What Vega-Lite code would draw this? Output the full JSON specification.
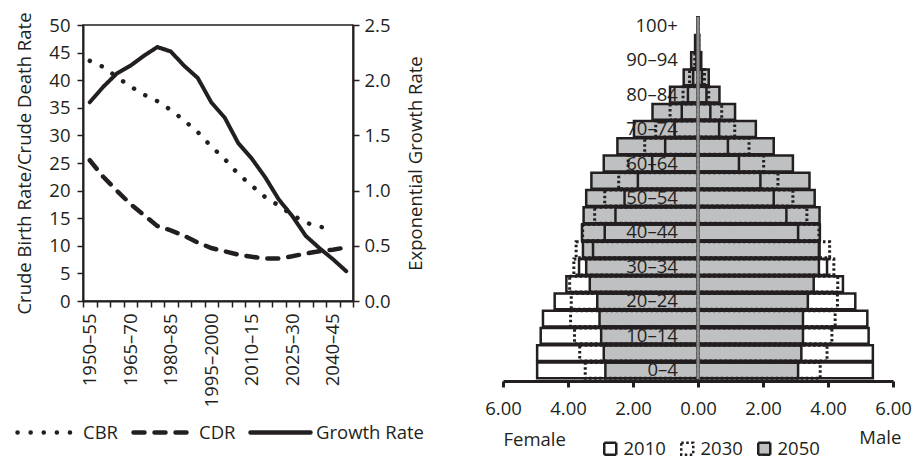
{
  "$schema": "https://vega.github.io/schema/vega-lite/v6.json",
  "background": "white",
  "padding": {"left": 14, "top": 11, "right": 2, "bottom": 0},
  "spacing": 58,
  "resolve": {"scale": {"strokeDash": "independent", "fill": "independent"}, "legend": {"strokeDash": "independent", "fill": "independent"}},
  "config": {
    "font": "Open Sans",
    "view": {"stroke": null},
    "axis": {"labelFontSize": 18.5, "titleFontSize": 18.5, "titleFontWeight": "normal", "labelColor": "#231f20", "titleColor": "#231f20", "domainColor": "#231f20", "tickColor": "#231f20", "grid": false, "labelFlush": false},
    "legend": {"labelFontSize": 18.5, "labelColor": "#231f20"},
    "title": {"fontSize": 18.5, "fontWeight": "normal", "color": "#231f20"}
  },
  "hconcat": [
    {
      "width": 270,
      "height": 276,
      "view": {"stroke": "#231f20", "strokeWidth": 1.5},
      "data": {"values": [
        {"period": "1950–55", "series": "CBR", "value": 43.5},
        {"period": "1955–60", "series": "CBR", "value": 42.4},
        {"period": "1960–65", "series": "CBR", "value": 40.6},
        {"period": "1965–70", "series": "CBR", "value": 38.9},
        {"period": "1970–75", "series": "CBR", "value": 37.4},
        {"period": "1975–80", "series": "CBR", "value": 36.2},
        {"period": "1980–85", "series": "CBR", "value": 34.6},
        {"period": "1985–90", "series": "CBR", "value": 32.7},
        {"period": "1990–95", "series": "CBR", "value": 30.6},
        {"period": "1995–2000", "series": "CBR", "value": 28.0},
        {"period": "2000–05", "series": "CBR", "value": 25.7},
        {"period": "2005–10", "series": "CBR", "value": 23.0},
        {"period": "2010–15", "series": "CBR", "value": 20.9},
        {"period": "2015–20", "series": "CBR", "value": 18.8},
        {"period": "2020–25", "series": "CBR", "value": 17.3},
        {"period": "2025–30", "series": "CBR", "value": 15.6},
        {"period": "2030–35", "series": "CBR", "value": 14.2},
        {"period": "2035–40", "series": "CBR", "value": 13.5},
        {"period": "2040–45", "series": "CBR", "value": 12.9},
        {"period": "1950–55", "series": "CDR", "value": 25.5},
        {"period": "1955–60", "series": "CDR", "value": 22.5},
        {"period": "1960–65", "series": "CDR", "value": 20.0},
        {"period": "1965–70", "series": "CDR", "value": 17.6},
        {"period": "1970–75", "series": "CDR", "value": 15.6},
        {"period": "1975–80", "series": "CDR", "value": 13.6},
        {"period": "1980–85", "series": "CDR", "value": 12.8},
        {"period": "1985–90", "series": "CDR", "value": 11.8},
        {"period": "1990–95", "series": "CDR", "value": 10.6},
        {"period": "1995–2000", "series": "CDR", "value": 9.6},
        {"period": "2000–05", "series": "CDR", "value": 9.0},
        {"period": "2005–10", "series": "CDR", "value": 8.4},
        {"period": "2010–15", "series": "CDR", "value": 8.0},
        {"period": "2015–20", "series": "CDR", "value": 7.7},
        {"period": "2020–25", "series": "CDR", "value": 7.7},
        {"period": "2025–30", "series": "CDR", "value": 8.1},
        {"period": "2030–35", "series": "CDR", "value": 8.6},
        {"period": "2035–40", "series": "CDR", "value": 9.0},
        {"period": "2040–45", "series": "CDR", "value": 9.3},
        {"period": "2045–50", "series": "CDR", "value": 9.7},
        {"period": "1950–55", "series": "Growth Rate", "value": 1.80},
        {"period": "1955–60", "series": "Growth Rate", "value": 1.94},
        {"period": "1960–65", "series": "Growth Rate", "value": 2.06},
        {"period": "1965–70", "series": "Growth Rate", "value": 2.13},
        {"period": "1970–75", "series": "Growth Rate", "value": 2.22},
        {"period": "1975–80", "series": "Growth Rate", "value": 2.30},
        {"period": "1980–85", "series": "Growth Rate", "value": 2.26},
        {"period": "1985–90", "series": "Growth Rate", "value": 2.13},
        {"period": "1990–95", "series": "Growth Rate", "value": 2.02},
        {"period": "1995–2000", "series": "Growth Rate", "value": 1.80},
        {"period": "2000–05", "series": "Growth Rate", "value": 1.66},
        {"period": "2005–10", "series": "Growth Rate", "value": 1.43},
        {"period": "2010–15", "series": "Growth Rate", "value": 1.29},
        {"period": "2015–20", "series": "Growth Rate", "value": 1.12},
        {"period": "2020–25", "series": "Growth Rate", "value": 0.92},
        {"period": "2025–30", "series": "Growth Rate", "value": 0.77},
        {"period": "2030–35", "series": "Growth Rate", "value": 0.59},
        {"period": "2035–40", "series": "Growth Rate", "value": 0.48},
        {"period": "2040–45", "series": "Growth Rate", "value": 0.38},
        {"period": "2045–50", "series": "Growth Rate", "value": 0.27}
      ]},
      "encoding": {
        "x": {
          "field": "period", "type": "ordinal", "bandPosition": 0.5,
          "scale": {"type": "band", "paddingInner": 0, "paddingOuter": 0,
            "domain": ["1950–55","1955–60","1960–65","1965–70","1970–75","1975–80","1980–85","1985–90","1990–95","1995–2000","2000–05","2005–10","2010–15","2015–20","2020–25","2025–30","2030–35","2035–40","2040–45","2045–50"]},
          "axis": {
            "title": null, "labelAngle": -90, "labelAlign": "right", "labelBaseline": "middle",
            "labelExpr": "indexof(['1950–55','1965–70','1980–85','1995–2000','2010–15','2025–30','2040–45'], datum.label) >= 0 ? datum.label : ''",
            "tickBand": "extent", "tickSize": 6, "tickWidth": 1.5, "labelPadding": 6, "domainWidth": 2
          }
        }
      },
      "layer": [
        {
          "transform": [{"filter": "datum.series != 'Growth Rate'"}],
          "mark": {"type": "line", "color": "#231f20", "strokeWidth": 4.5, "strokeCap": "round"},
          "encoding": {
            "y": {"field": "value", "type": "quantitative",
              "scale": {"domain": [0, 50]},
              "axis": {"title": "Crude Birth Rate/Crude Death Rate", "values": [0,5,10,15,20,25,30,35,40,45,50], "tickSize": 6, "tickWidth": 1.5, "labelPadding": 7, "titlePadding": 14, "domainWidth": 2}},
            "strokeDash": {"field": "series", "type": "nominal",
              "scale": {"domain": ["CBR", "CDR", "Growth Rate"], "range": [[0.1, 13], [11, 10], [1, 0]]},
              "legend": {"orient": "none", "legendX": -68, "legendY": 375, "direction": "horizontal", "title": null,
                "symbolType": "stroke", "symbolSize": 3600, "symbolStrokeWidth": 4.5, "symbolStrokeColor": "#231f20",
                "labelFontSize": 18.5, "labelOffset": 3, "columnPadding": 5,
                "encode": {"symbols": {"update": {"strokeCap": {"value": "round"}}}}}}
          }
        },
        {
          "transform": [{"filter": "datum.series == 'Growth Rate'"}],
          "mark": {"type": "line", "color": "#231f20", "strokeWidth": 4, "strokeCap": "round"},
          "encoding": {
            "y": {"field": "value", "type": "quantitative",
              "scale": {"domain": [0, 2.5]},
              "axis": {"orient": "right", "title": "Exponential Growth Rate", "titleAngle": -90, "titleBaseline": "top", "values": [0,0.5,1,1.5,2,2.5], "format": ".1f", "tickSize": 6, "tickWidth": 1.5, "labelPadding": 5, "titlePadding": 16, "domainWidth": 2}},
            "strokeDash": {"field": "series", "type": "nominal",
              "scale": {"domain": ["CBR", "CDR", "Growth Rate"], "range": [[0.1, 13], [11, 10], [1, 0]]},
              "legend": {"orient": "none", "legendX": -68, "legendY": 375, "direction": "horizontal", "title": null,
                "symbolType": "stroke", "symbolSize": 3600, "symbolStrokeWidth": 4.5, "symbolStrokeColor": "#231f20",
                "labelFontSize": 18.5, "labelOffset": 3, "columnPadding": 5,
                "encode": {"symbols": {"update": {"strokeCap": {"value": "round"}}}}}}
          }
        }
      ],
      "resolve": {"scale": {"y": "independent"}}
    },
    {
      "width": 390,
      "height": 356,
      "title": {"text": "Male", "orient": "bottom", "anchor": "end", "offset": -31, "dx": -10, "fontSize": 18.5, "fontWeight": "normal"},
      "data": {"values": [
        {"age":"0–4","sex":"Female","year":"2010","pct":-4.95},
        {"age":"5–9","sex":"Female","year":"2010","pct":-4.95},
        {"age":"10–14","sex":"Female","year":"2010","pct":-4.84},
        {"age":"15–19","sex":"Female","year":"2010","pct":-4.77},
        {"age":"20–24","sex":"Female","year":"2010","pct":-4.41},
        {"age":"25–29","sex":"Female","year":"2010","pct":-4.05},
        {"age":"30–34","sex":"Female","year":"2010","pct":-3.66},
        {"age":"35–39","sex":"Female","year":"2010","pct":-3.23},
        {"age":"40–44","sex":"Female","year":"2010","pct":-2.87},
        {"age":"45–49","sex":"Female","year":"2010","pct":-2.54},
        {"age":"50–54","sex":"Female","year":"2010","pct":-2.26},
        {"age":"55–59","sex":"Female","year":"2010","pct":-1.85},
        {"age":"60–64","sex":"Female","year":"2010","pct":-1.41},
        {"age":"65–69","sex":"Female","year":"2010","pct":-1.01},
        {"age":"70–74","sex":"Female","year":"2010","pct":-0.72},
        {"age":"75–79","sex":"Female","year":"2010","pct":-0.50},
        {"age":"80–84","sex":"Female","year":"2010","pct":-0.31},
        {"age":"85–89","sex":"Female","year":"2010","pct":-0.15},
        {"age":"90–94","sex":"Female","year":"2010","pct":-0.05},
        {"age":"95–99","sex":"Female","year":"2010","pct":-0.02},
        {"age":"100+","sex":"Female","year":"2010","pct":-0.01},
        {"age":"0–4","sex":"Male","year":"2010","pct":5.38},
        {"age":"5–9","sex":"Male","year":"2010","pct":5.38},
        {"age":"10–14","sex":"Male","year":"2010","pct":5.25},
        {"age":"15–19","sex":"Male","year":"2010","pct":5.21},
        {"age":"20–24","sex":"Male","year":"2010","pct":4.84},
        {"age":"25–29","sex":"Male","year":"2010","pct":4.46},
        {"age":"30–34","sex":"Male","year":"2010","pct":3.97},
        {"age":"35–39","sex":"Male","year":"2010","pct":3.72},
        {"age":"40–44","sex":"Male","year":"2010","pct":3.08},
        {"age":"45–49","sex":"Male","year":"2010","pct":2.72},
        {"age":"50–54","sex":"Male","year":"2010","pct":2.33},
        {"age":"55–59","sex":"Male","year":"2010","pct":1.92},
        {"age":"60–64","sex":"Male","year":"2010","pct":1.26},
        {"age":"65–69","sex":"Male","year":"2010","pct":0.92},
        {"age":"70–74","sex":"Male","year":"2010","pct":0.65},
        {"age":"75–79","sex":"Male","year":"2010","pct":0.38},
        {"age":"80–84","sex":"Male","year":"2010","pct":0.26},
        {"age":"85–89","sex":"Male","year":"2010","pct":0.12},
        {"age":"90–94","sex":"Male","year":"2010","pct":0.03},
        {"age":"95–99","sex":"Male","year":"2010","pct":0.01},
        {"age":"100+","sex":"Male","year":"2010","pct":0.00},
        {"age":"0–4","sex":"Female","year":"2030","pct":-3.47},
        {"age":"5–9","sex":"Female","year":"2030","pct":-3.64},
        {"age":"10–14","sex":"Female","year":"2030","pct":-3.80},
        {"age":"15–19","sex":"Female","year":"2030","pct":-3.92},
        {"age":"20–24","sex":"Female","year":"2030","pct":-3.90},
        {"age":"25–29","sex":"Female","year":"2030","pct":-3.95},
        {"age":"30–34","sex":"Female","year":"2030","pct":-3.82},
        {"age":"35–39","sex":"Female","year":"2030","pct":-3.75},
        {"age":"40–44","sex":"Female","year":"2030","pct":-3.55},
        {"age":"45–49","sex":"Female","year":"2030","pct":-3.18},
        {"age":"50–54","sex":"Female","year":"2030","pct":-2.87},
        {"age":"55–59","sex":"Female","year":"2030","pct":-2.44},
        {"age":"60–64","sex":"Female","year":"2030","pct":-2.15},
        {"age":"65–69","sex":"Female","year":"2030","pct":-1.64},
        {"age":"70–74","sex":"Female","year":"2030","pct":-1.30},
        {"age":"75–79","sex":"Female","year":"2030","pct":-0.86},
        {"age":"80–84","sex":"Female","year":"2030","pct":-0.46},
        {"age":"85–89","sex":"Female","year":"2030","pct":-0.26},
        {"age":"90–94","sex":"Female","year":"2030","pct":-0.10},
        {"age":"95–99","sex":"Female","year":"2030","pct":-0.04},
        {"age":"100+","sex":"Female","year":"2030","pct":-0.01},
        {"age":"0–4","sex":"Male","year":"2030","pct":3.76},
        {"age":"5–9","sex":"Male","year":"2030","pct":3.97},
        {"age":"10–14","sex":"Male","year":"2030","pct":4.12},
        {"age":"15–19","sex":"Male","year":"2030","pct":4.22},
        {"age":"20–24","sex":"Male","year":"2030","pct":4.29},
        {"age":"25–29","sex":"Male","year":"2030","pct":4.30},
        {"age":"30–34","sex":"Male","year":"2030","pct":4.18},
        {"age":"35–39","sex":"Male","year":"2030","pct":4.05},
        {"age":"40–44","sex":"Male","year":"2030","pct":3.72},
        {"age":"45–49","sex":"Male","year":"2030","pct":3.35},
        {"age":"50–54","sex":"Male","year":"2030","pct":2.92},
        {"age":"55–59","sex":"Male","year":"2030","pct":2.46},
        {"age":"60–64","sex":"Male","year":"2030","pct":2.02},
        {"age":"65–69","sex":"Male","year":"2030","pct":1.57},
        {"age":"70–74","sex":"Male","year":"2030","pct":1.13},
        {"age":"75–79","sex":"Male","year":"2030","pct":0.73},
        {"age":"80–84","sex":"Male","year":"2030","pct":0.33},
        {"age":"85–89","sex":"Male","year":"2030","pct":0.20},
        {"age":"90–94","sex":"Male","year":"2030","pct":0.06},
        {"age":"95–99","sex":"Male","year":"2030","pct":0.02},
        {"age":"100+","sex":"Male","year":"2030","pct":0.01},
        {"age":"0–4","sex":"Female","year":"2050","pct":-2.85},
        {"age":"5–9","sex":"Female","year":"2050","pct":-2.90},
        {"age":"10–14","sex":"Female","year":"2050","pct":-2.98},
        {"age":"15–19","sex":"Female","year":"2050","pct":-3.03},
        {"age":"20–24","sex":"Female","year":"2050","pct":-3.10},
        {"age":"25–29","sex":"Female","year":"2050","pct":-3.33},
        {"age":"30–34","sex":"Female","year":"2050","pct":-3.44},
        {"age":"35–39","sex":"Female","year":"2050","pct":-3.54},
        {"age":"40–44","sex":"Female","year":"2050","pct":-3.57},
        {"age":"45–49","sex":"Female","year":"2050","pct":-3.52},
        {"age":"50–54","sex":"Female","year":"2050","pct":-3.44},
        {"age":"55–59","sex":"Female","year":"2050","pct":-3.28},
        {"age":"60–64","sex":"Female","year":"2050","pct":-2.90},
        {"age":"65–69","sex":"Female","year":"2050","pct":-2.48},
        {"age":"70–74","sex":"Female","year":"2050","pct":-1.97},
        {"age":"75–79","sex":"Female","year":"2050","pct":-1.40},
        {"age":"80–84","sex":"Female","year":"2050","pct":-0.86},
        {"age":"85–89","sex":"Female","year":"2050","pct":-0.44},
        {"age":"90–94","sex":"Female","year":"2050","pct":-0.21},
        {"age":"95–99","sex":"Female","year":"2050","pct":-0.09},
        {"age":"100+","sex":"Female","year":"2050","pct":-0.02},
        {"age":"0–4","sex":"Male","year":"2050","pct":3.08},
        {"age":"5–9","sex":"Male","year":"2050","pct":3.18},
        {"age":"10–14","sex":"Male","year":"2050","pct":3.23},
        {"age":"15–19","sex":"Male","year":"2050","pct":3.23},
        {"age":"20–24","sex":"Male","year":"2050","pct":3.38},
        {"age":"25–29","sex":"Male","year":"2050","pct":3.56},
        {"age":"30–34","sex":"Male","year":"2050","pct":3.72},
        {"age":"35–39","sex":"Male","year":"2050","pct":3.74},
        {"age":"40–44","sex":"Male","year":"2050","pct":3.75},
        {"age":"45–49","sex":"Male","year":"2050","pct":3.74},
        {"age":"50–54","sex":"Male","year":"2050","pct":3.59},
        {"age":"55–59","sex":"Male","year":"2050","pct":3.43},
        {"age":"60–64","sex":"Male","year":"2050","pct":2.92},
        {"age":"65–69","sex":"Male","year":"2050","pct":2.33},
        {"age":"70–74","sex":"Male","year":"2050","pct":1.78},
        {"age":"75–79","sex":"Male","year":"2050","pct":1.14},
        {"age":"80–84","sex":"Male","year":"2050","pct":0.66},
        {"age":"85–89","sex":"Male","year":"2050","pct":0.33},
        {"age":"90–94","sex":"Male","year":"2050","pct":0.10},
        {"age":"95–99","sex":"Male","year":"2050","pct":0.04},
        {"age":"100+","sex":"Male","year":"2050","pct":0.01}
      ]},
      "layer": [
        {
          "transform": [{"filter": "datum.year == '2050'"}],
          "mark": {"type": "bar", "stroke": "#231f20", "strokeWidth": 2.5},
          "encoding": {
            "y": {"field": "age", "type": "ordinal", "axis": null,
              "scale": {"domain": ["100+","95–99","90–94","85–89","80–84","75–79","70–74","65–69","60–64","55–59","50–54","45–49","40–44","35–39","30–34","25–29","20–24","15–19","10–14","5–9","0–4"], "range": [-8, 354], "paddingInner": 0.08, "paddingOuter": 0.04}},
            "x": {"field": "pct", "type": "quantitative",
              "scale": {"domain": [-6, 6]},
              "axis": {"values": [-6,-4,-2,0,2,4,6], "labelExpr": "format(abs(datum.value), '.2f')", "title": "Female", "titleAnchor": "start", "titlePadding": 13, "tickSize": 6, "tickWidth": 3, "domainWidth": 3, "labelPadding": 12, "labelFlush": false}},
            "x2": {"datum": 0},
            "fill": {"field": "year", "type": "nominal",
              "scale": {"domain": ["2010", "2030", "2050"], "range": ["rgba(255,255,255,0)", "rgba(255,255,255,0)", "#bfc0c2"]},
              "legend": {"orient": "none", "legendX": 98, "legendY": 414, "direction": "horizontal", "title": null,
                "symbolType": "square", "symbolSize": 144, "symbolStrokeColor": "#231f20", "symbolStrokeWidth": 2.5,
                "labelFontSize": 18.5, "labelOffset": 4, "columnPadding": 10,
                "encode": {"symbols": {"update": {"stroke": {"value": "#231f20"}, "strokeDash": {"signal": "datum.value == '2030' ? [2.5, 2.5] : [1, 0]"}}}}}}
          }
        },
        {
          "transform": [{"filter": "datum.year == '2010'"}],
          "mark": {"type": "bar", "stroke": "#231f20", "strokeWidth": 2.5},
          "encoding": {
            "y": {"field": "age", "type": "ordinal"},
            "x": {"field": "pct", "type": "quantitative"},
            "x2": {"datum": 0},
            "fill": {"field": "year", "type": "nominal"}
          }
        },
        {
          "transform": [{"filter": "datum.year == '2030'"}],
          "mark": {"type": "bar", "stroke": "#231f20", "strokeWidth": 3, "strokeDash": [2.5, 2.5]},
          "encoding": {
            "y": {"field": "age", "type": "ordinal"},
            "x": {"field": "pct", "type": "quantitative"},
            "x2": {"datum": 0},
            "fill": {"field": "year", "type": "nominal"}
          }
        },
        {
          "transform": [{"filter": "datum.year == '2010' && datum.sex == 'Female'"}],
          "mark": {"type": "tick", "orient": "vertical", "color": "#8c8c8c", "thickness": 3, "size": 17.6, "opacity": 1},
          "encoding": {"x": {"datum": 0}, "y": {"field": "age", "type": "ordinal"}}
        },
        {
          "data": {"values": [{"age":"100+"},{"age":"90–94"},{"age":"80–84"},{"age":"70–74"},{"age":"60–64"},{"age":"50–54"},{"age":"40–44"},{"age":"30–34"},{"age":"20–24"},{"age":"10–14"},{"age":"0–4"}]},
          "mark": {"type": "text", "align": "right", "baseline": "middle", "fontSize": 18.5, "color": "#231f20"},
          "encoding": {
            "x": {"datum": -0.62},
            "y": {"field": "age", "type": "ordinal"},
            "text": {"field": "age"}
          }
        }
      ]
    }
  ]
}
